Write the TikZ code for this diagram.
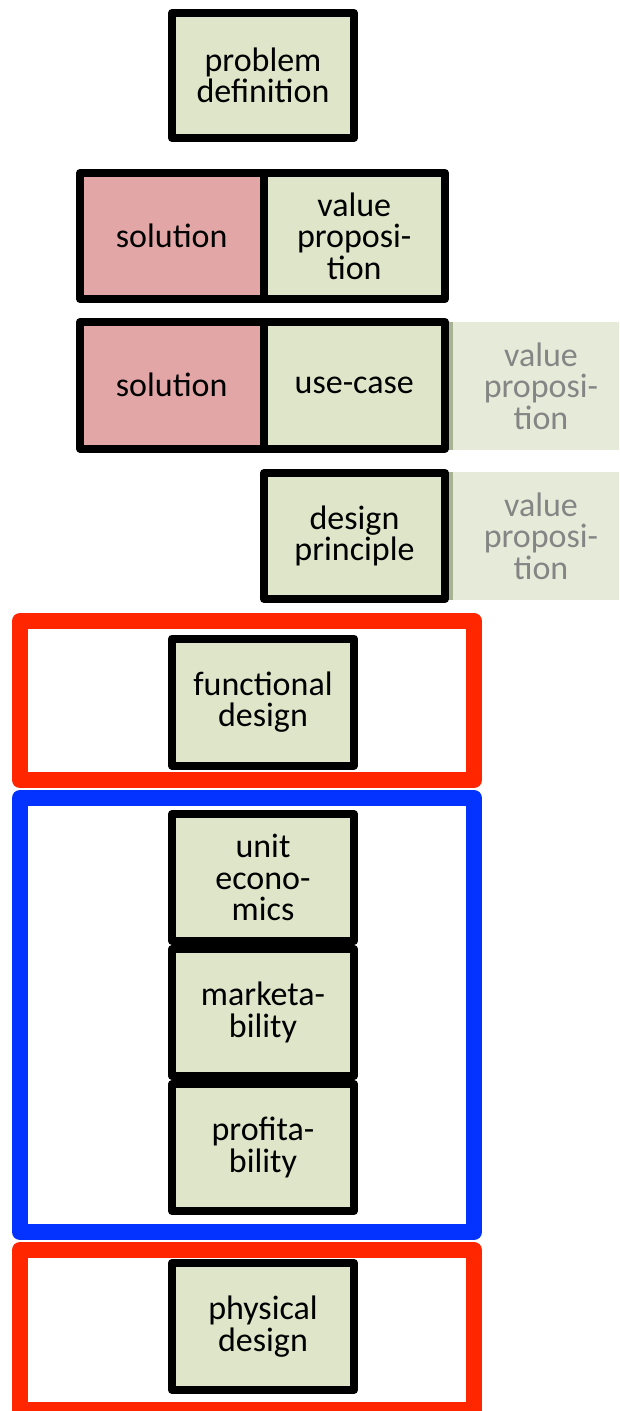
\documentclass[tikz,border=0pt]{standalone}
\usepackage{fontspec}
\setmainfont{Carlito}
\definecolor{cellgreen}{HTML}{DEE5C9}
\definecolor{cellred}{HTML}{E2A6A6}
\definecolor{ghostfill}{HTML}{E6EBD9}
\definecolor{ghostedge}{HTML}{A8B295}
\definecolor{ghosttext}{HTML}{858585}
\definecolor{framered}{HTML}{FF2600}
\definecolor{frameblue}{HTML}{0433FF}
\begin{document}
\begin{tikzpicture}[x=1pt,y=-1pt,
  lbl/.style={font=\fontsize{34}{31.5}\selectfont, align=center},
  cell/.style={lbl, draw=black, line width=8pt, line join=round, inner sep=0pt,
    fill=cellgreen, text=black},
  single/.style={cell, minimum width=182pt, minimum height=127pt},
  ghost/.style={lbl, fill=ghostfill, text=ghosttext, inner sep=0pt,
    minimum width=192pt, minimum height=128pt},
  frame/.style={line width=16pt, line join=round, inner sep=0pt,
    minimum width=454pt}]
\useasboundingbox (0,0) rectangle (619,1411);
\clip (0,0) rectangle (619,1411);

% faded companions on the right
\node[ghost] (g1) at (541,386) {value\\proposi-\\tion};
\fill[ghostedge] (g1.north west) rectangle ([xshift=8pt]g1.south west);
\node[ghost] (g2) at (541,536) {value\\proposi-\\tion};
\fill[ghostedge] (g2.north west) rectangle ([xshift=8pt]g2.south west);

% top chain
\node[single, minimum height=125pt] (pd) at (263,75.5) {problem\\definition};

\node[cell, fill=cellred, minimum width=183.5pt, minimum height=126pt] (sol1) at (171.75,236) {solution};
\node[cell, minimum width=181.5pt, minimum height=126pt] (vp) at (354.25,236) {value\\proposi-\\tion};

\node[cell, fill=cellred, minimum width=183.5pt, minimum height=126.5pt] (sol2) at (171.75,385.25) {solution};
\node[cell, minimum width=181.5pt, minimum height=126.5pt] (uc) at (354.25,385.25) {use-case};

\node[cell, minimum width=181pt, minimum height=126pt] (dp) at (354.5,536) {design\\principle};

% functional group
\node[frame, draw=framered, minimum height=159pt] (fr1) at (247,700.5) {};
\node[single] (fd) at (263,702) {functional\\design};

% economic group
\node[frame, draw=frameblue, minimum height=434pt] (fr2) at (247,1015) {};
\node[single] (ue) at (263,877.5) {unit\\econo-\\mics};
\node[single] (mk) at (263,1012.5) {marketa-\\bility};
\node[single] (pf) at (263,1147.5) {profita-\\bility};

% physical group
\node[frame, draw=framered, minimum height=160pt] (fr3) at (247,1330) {};
\node[single] (ph) at (263,1326.5) {physical\\design};
\end{tikzpicture}
\end{document}
